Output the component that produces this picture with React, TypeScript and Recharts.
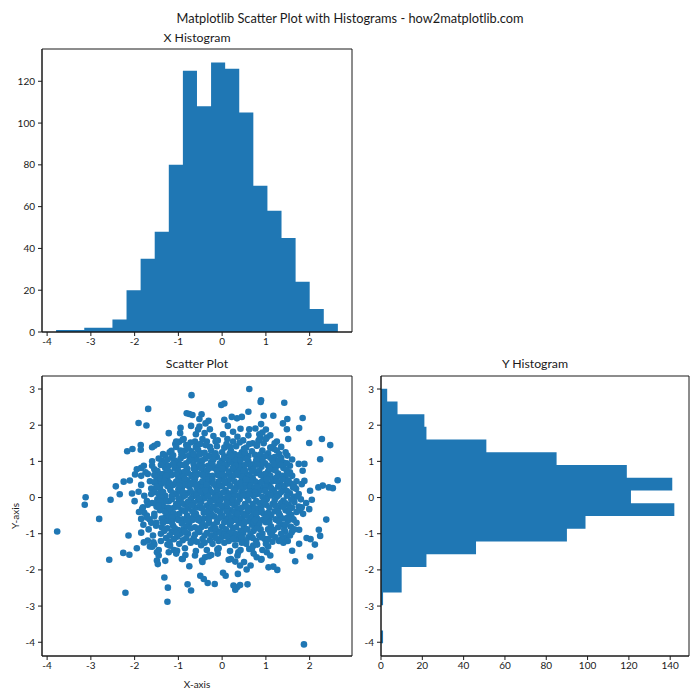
import React from 'react';
import { AreaChart, Area, XAxis, YAxis, ScatterChart, Scatter, ReferenceArea } from 'recharts';

const BLUE = '#1f77b4';
const INK = '#1a1a1a';
const FONT = 'Lato, "Noto Sans", sans-serif';

// X histogram: bin edges and counts
const xBinEdges = [-3.795, -3.473, -3.151, -2.829, -2.507, -2.185, -1.863, -1.541, -1.219, -0.897, -0.575, -0.253, 0.069, 0.391, 0.713, 1.035, 1.357, 1.679, 2.001, 2.323, 2.645];
const xBinCounts = [1, 1, 2, 2, 6, 20, 35, 48, 80, 125, 108, 129, 126, 105, 70, 58, 45, 24, 11, 4];

// Y histogram: bin edges (bottom to top) and counts
const yBinEdges = [-4.03, -3.678, -3.326, -2.974, -2.622, -2.27, -1.918, -1.566, -1.214, -0.862, -0.51, -0.158, 0.194, 0.546, 0.898, 1.25, 1.602, 1.954, 2.306, 2.658, 3.01];
const yBinCounts = [1, 0, 0, 1, 10, 10, 22, 46, 90, 99, 142, 121, 141, 119, 85, 51, 22, 21, 8, 3];

const xTicks = [-4, -3, -2, -1, 0, 1, 2];
const yTicks = [-4, -3, -2, -1, 0, 1, 2, 3];
const xCountTicks = [0, 20, 40, 60, 80, 100, 120];
const yCountTicks = [0, 20, 40, 60, 80, 100, 120, 140];

const xDomain: [number, number] = [-4.117, 2.968];
const yDomain: [number, number] = [-4.38, 3.36];
const xCountMax = 135.45;
const yCountMax = 149.1;

const outerPoints: [number, number][] = [
  [-3.77, -0.94], [-3.12, 0.01], [-3.14, -0.2], [-2.81, -0.59], [-2.55, -0.06], [-2.58, -1.72], [-2.21, -2.63], [-1.25, -2.88],
  [-1.24, -2.49], [-1.32, -2.21], [1.87, -4.06], [-0.7, 2.83], [0.62, 3.0], [0.89, 2.69], [0.88, 2.64], [1.42, 2.62],
  [-1.69, 2.45], [-1.91, 2.06], [-1.73, 1.99], [-2.17, 1.28], [-2.05, 1.34], [-1.86, 1.45], [-1.86, 1.32], [1.99, 1.51],
  [2.28, 1.62], [2.47, 1.45], [2.24, 1.06], [2.44, 0.28], [2.3, 0.33], [2.2, 0.28], [2.64, 0.48], [2.53, 0.26],
  [2.38, -0.61], [2.21, -0.89], [2.24, -1.06], [2.12, -1.3], [2.02, -1.15], [1.93, -1.12], [2.01, -1.63], [1.67, -1.76],
  [1.6, -1.47], [1.26, -2.0], [1.17, -1.91], [1.06, -1.93], [0.58, -2.4], [0.41, -2.42], [0.3, -2.55], [0.34, -2.48],
  [0.26, -2.43], [0.36, -2.11], [0.08, -2.16], [0.02, -2.08], [-0.17, -2.39], [-0.33, -2.36], [-0.42, -2.25], [-0.5, -2.16],
  [-0.71, -2.57], [-0.79, -2.4], [-0.75, -1.9], [0.56, -1.99], [0.65, -1.88], [-1.7, -1.19], [-1.95, -1.4], [-2.12, -1.58],
  [-2.26, -1.53], [-2.14, -1.05], [-1.85, -0.97], [-2.43, 0.31], [-2.34, 0.09], [-2.25, 0.44], [-2.11, 0.47], [-1.99, 0.64],
  [-2.06, 0.11], [-1.91, 0.16],
  [-0.81, 2.33], [-0.75, 2.31], [-0.68, 2.28], [-0.47, 2.3], [-0.52, 2.17], [-0.02, 2.56], [0.05, 2.6], [0.6, 2.37],
  [0.45, 2.23], [0.34, 2.19], [0.22, 2.23], [0.95, 2.26], [1.39, 2.05], [1.49, 2.17], [1.84, 2.2], [1.76, 1.92],
  [1.51, 1.62], [1.48, 1.89], [1.17, 2.26], [0.89, 2.03], [0.92, 1.8], [0.76, 1.91], [0.62, 1.89], [-0.96, 1.78],
  [-0.95, 1.93], [-1.22, 1.78], [-0.71, 1.98], [-0.38, 2.05], [-0.28, 1.89], [0.05, 2.15], [0.13, 1.98], [-1.55, 1.43],
  [-1.48, 1.48], [-1.6, 1.39], [-1.79, 0.88], [-1.85, 0.82], [-1.6, 0.88], [-1.7, 0.65], [1.88, 0.93], [1.75, 0.93],
  [1.84, 0.74], [1.82, 0.37], [1.88, 0.46], [1.69, 0.24], [2.01, 0.19], [2.05, -0.06], [1.99, -0.32], [1.92, -0.15],
  [1.82, -0.27], [1.63, -0.61], [1.57, -0.81], [1.59, -0.96], [1.46, -1.1], [1.36, -1.15], [1.44, -0.94], [1.76, -0.89],
  [1.76, -1.28], [1.32, 1.02], [1.4, 0.97], [1.49, 1.16], [1.25, 1.3], [1.13, 1.39],
  [-1.83, -0.32], [-1.78, -0.42], [-1.66, -0.6], [-1.55, -0.52], [-1.5, -0.25], [-1.62, -0.7],
  [-0.39, -1.65], [-0.46, -1.74], [-0.25, -1.59], [-0.11, -1.44], [0.2, -1.7], [0.3, -1.77], [0.41, -1.88], [0.37, -1.51],
  [0.71, -1.33], [0.79, -1.65], [0.89, -1.72], [1.02, -1.51], [0.62, -1.42], [-0.84, -1.59], [-0.92, -1.7], [-1.03, -1.47],
  [-1.19, -1.33], [-1.22, -1.51], [-1.49, -1.51], [-1.49, -1.74], [-1.47, -1.84], [-1.6, -1.36], [-1.57, -1.24], [-1.79, -1.24],
  [-1.51, -0.78], [-1.72, -0.5], [-1.81, -0.27], [-1.85, -0.59], [-1.72, -0.1], [-1.57, 0.19], [-1.45, 0.42], [-1.34, 0.65],
  [-1.49, 0.7], [-1.38, 1.02], [-1.3, 1.16], [-1.16, 1.29], [-1.07, 1.48], [-0.98, 1.54], [-0.88, 1.62],
  [0.79, 1.43], [0.83, 1.57], [0.87, 1.66], [1.02, 1.66], [-0.52, 1.96], [-0.31, 2.12], [-0.4, 1.78], [-0.62, 1.55],
  [-1.85, 0.35], [-1.78, 0.05], [-1.9, -0.4], [-1.72, -0.55], [-1.8, -0.75], [-1.68, -0.88], [-1.62, 0.25], [-1.7, -0.2],
  [-1.95, 0.78], [-1.85, 0.6], [-2.0, -0.1], [-1.58, -1.05], [-1.55, -1.3], [-1.45, -1.45], [-1.4, -1.2], [-1.65, -1.35],
  [1.6, 0.6], [1.7, 0.45], [1.65, 0.3], [1.75, 0.1], [1.8, -0.05], [1.85, -0.45], [1.7, -0.7], [1.65, -0.88],
  [1.55, -1.05], [1.5, -1.2], [1.4, -1.25], [1.3, -1.2], [1.55, 0.88], [1.6, 1.05], [1.45, 1.25], [1.35, 1.4],
  [1.25, 1.55], [1.1, 1.72], [1.0, 1.88], [0.85, 1.75], [1.2, 1.5],
];

const corePoints: [number, number][] = [
  [-1.05, 1.55], [-0.9, 1.6], [-0.72, 1.52], [-0.6, 1.75], [-0.45, 1.62], [-0.35, 1.55], [-0.2, 1.7], [-0.1, 1.58],
  [0.02, 1.75], [0.12, 1.62], [0.25, 1.55], [0.35, 1.68], [0.48, 1.58], [0.6, 1.72], [0.7, 1.5], [0.85, 1.6],
  [1.0, 1.62], [0.25, 1.82], [-0.55, 1.88], [0.42, 1.9],
  [-1.35, 1.2], [-1.2, 1.25], [-1.05, 1.4], [-0.95, 1.3], [-0.82, 1.45], [-0.7, 1.28], [-0.6, 1.4], [-0.48, 1.22],
  [-0.38, 1.45], [-0.25, 1.3], [-0.12, 1.42], [0.0, 1.25], [0.1, 1.48], [0.2, 1.3], [0.32, 1.42], [0.45, 1.25],
  [0.55, 1.38], [0.68, 1.28], [0.8, 1.45], [0.92, 1.3], [1.05, 1.22], [1.18, 1.35], [1.3, 1.2], [-0.3, 1.15], [0.6, 1.15],
  [-1.6, 1.0], [-1.45, 1.08], [-1.3, 0.95], [-1.15, 1.1], [-1.0, 0.98], [-0.88, 1.15], [-0.75, 1.02], [-0.62, 1.12],
  [-0.5, 0.95], [-0.38, 1.08], [-0.25, 0.98], [-0.12, 1.12], [0.0, 1.02], [0.12, 0.92], [0.22, 1.1], [0.35, 0.98],
  [0.48, 1.12], [0.6, 1.0], [0.72, 0.92], [0.85, 1.08], [0.98, 0.95], [1.1, 1.1], [1.22, 0.98], [1.35, 1.1], [1.48, 0.95],
  [-1.75, 0.7], [-1.55, 0.78], [-1.42, 0.65], [-1.3, 0.82], [-1.18, 0.7], [-1.05, 0.85], [-0.92, 0.68], [-0.8, 0.8],
  [-0.68, 0.62], [-0.55, 0.85], [-0.42, 0.72], [-0.3, 0.6], [-0.18, 0.82], [-0.05, 0.7], [0.08, 0.85], [0.18, 0.62],
  [0.3, 0.75], [0.42, 0.88], [0.55, 0.65], [0.66, 0.8], [0.78, 0.68], [0.9, 0.85], [1.02, 0.62], [1.15, 0.78],
  [1.28, 0.66], [1.4, 0.82], [1.55, 0.7], [-0.95, 0.9], [0.25, 0.95],
  [-1.65, 0.45], [-1.5, 0.55], [-1.38, 0.38], [-1.25, 0.5], [-1.12, 0.35], [-1.0, 0.55], [-0.88, 0.42], [-0.75, 0.3],
  [-0.62, 0.5], [-0.5, 0.38], [-0.4, 0.58], [-0.28, 0.42], [-0.15, 0.32], [-0.02, 0.52], [0.1, 0.4], [0.22, 0.55],
  [0.34, 0.35], [0.45, 0.48], [0.58, 0.32], [0.7, 0.55], [0.82, 0.4], [0.95, 0.5], [1.08, 0.35], [1.2, 0.52],
  [1.32, 0.4], [1.45, 0.55], [1.58, 0.38], [-0.7, 0.58], [0.05, 0.6],
  [-1.55, 0.15], [-1.42, 0.25], [-1.3, 0.05], [-1.18, 0.2], [-1.05, 0.1], [-0.92, 0.28], [-0.8, 0.12], [-0.68, 0.02],
  [-0.55, 0.22], [-0.42, 0.08], [-0.3, 0.25], [-0.18, 0.12], [-0.05, 0.02], [0.08, 0.2], [0.2, 0.08], [0.32, 0.28],
  [0.44, 0.15], [0.56, 0.02], [0.68, 0.22], [0.8, 0.1], [0.92, 0.27], [1.05, 0.05], [1.18, 0.2], [1.3, 0.08],
  [1.42, 0.25], [1.55, 0.12], [1.65, 0.02],
  [-1.6, -0.15], [-1.48, -0.05], [-1.35, -0.25], [-1.22, -0.1], [-1.1, -0.28], [-0.98, -0.08], [-0.85, -0.2], [-0.72, -0.05],
  [-0.6, -0.28], [-0.48, -0.12], [-0.35, -0.22], [-0.22, -0.05], [-0.1, -0.18], [0.02, -0.28], [0.15, -0.1], [0.28, -0.22],
  [0.4, -0.05], [0.52, -0.18], [0.65, -0.28], [0.78, -0.1], [0.9, -0.22], [1.02, -0.05], [1.15, -0.18], [1.28, -0.28],
  [1.4, -0.08], [1.52, -0.2], [1.65, -0.12], [1.75, -0.25],
  [-1.55, -0.45], [-1.42, -0.35], [-1.3, -0.55], [-1.18, -0.4], [-1.05, -0.58], [-0.92, -0.35], [-0.8, -0.5], [-0.68, -0.38],
  [-0.55, -0.55], [-0.42, -0.42], [-0.3, -0.32], [-0.18, -0.52], [-0.05, -0.4], [0.08, -0.58], [0.2, -0.35], [0.32, -0.48],
  [0.45, -0.58], [0.58, -0.4], [0.7, -0.52], [0.82, -0.32], [0.95, -0.45], [1.08, -0.58], [1.2, -0.38], [1.32, -0.5],
  [1.45, -0.35], [1.58, -0.48], [1.7, -0.4],
  [-1.5, -0.7], [-1.38, -0.82], [-1.25, -0.65], [-1.12, -0.78], [-1.0, -0.62], [-0.88, -0.88], [-0.75, -0.7], [-0.62, -0.82],
  [-0.5, -0.65], [-0.38, -0.78], [-0.25, -0.88], [-0.12, -0.68], [0.0, -0.8], [0.12, -0.62], [0.25, -0.85], [0.38, -0.7],
  [0.5, -0.82], [0.62, -0.65], [0.75, -0.78], [0.88, -0.88], [1.0, -0.68], [1.12, -0.8], [1.25, -0.62], [1.38, -0.75], [1.5, -0.65],
  [-1.4, -1.0], [-1.28, -1.12], [-1.15, -0.95], [-1.02, -1.08], [-0.9, -1.18], [-0.78, -1.0], [-0.65, -1.12], [-0.52, -0.95],
  [-0.4, -1.05], [-0.28, -1.18], [-0.15, -0.98], [-0.02, -1.1], [0.1, -0.92], [0.22, -1.05], [0.35, -1.15], [0.48, -0.98],
  [0.6, -1.1], [0.72, -0.92], [0.85, -1.05], [0.98, -1.15], [1.1, -0.98], [1.22, -1.1], [-0.7, -1.2], [0.15, -1.2],
  [-1.25, -1.3], [-1.1, -1.45], [-0.98, -1.28], [-0.85, -1.4], [-0.72, -1.25], [-0.6, -1.48], [-0.48, -1.32], [-0.35, -1.45],
  [-0.22, -1.28], [-0.08, -1.4], [0.05, -1.25], [0.18, -1.48], [0.3, -1.32], [0.42, -1.45], [0.55, -1.28], [0.68, -1.42],
  [0.8, -1.3], [0.92, -1.45], [1.05, -1.35],
  [-1.45, -1.6], [-1.3, -1.75], [-1.05, -1.55], [-0.9, -1.7], [-0.62, -1.6], [-0.45, -1.78], [-0.3, -1.62], [-0.1, -1.55],
  [0.15, -1.72], [0.35, -1.6], [0.5, -1.78], [0.72, -1.55], [0.9, -1.7], [1.1, -1.6],
  [-0.85, 1.3], [-0.55, 1.32], [-0.15, 1.22], [0.28, 1.2], [0.75, 1.18], [1.1, 1.38],
  [-1.08, 0.82], [-0.82, 0.95], [-0.58, 1.05], [-0.32, 0.88], [-0.05, 0.95], [0.15, 1.05], [0.4, 0.82], [0.62, 0.92],
  [0.88, 0.98], [1.05, 0.72], [1.25, 0.88],
  [-1.4, 0.52], [-1.15, 0.62], [-0.95, 0.45], [-0.78, 0.68], [-0.55, 0.65], [-0.35, 0.5], [-0.1, 0.62], [0.15, 0.72],
  [0.38, 0.62], [0.52, 0.75], [0.75, 0.45], [0.98, 0.65], [1.15, 0.45], [1.38, 0.6],
  [-1.45, 0.1], [-1.25, 0.32], [-1.0, 0.22], [-0.85, 0.35], [-0.62, 0.12], [-0.45, 0.3], [-0.25, 0.15], [0.0, 0.32],
  [0.14, 0.12], [0.38, 0.05], [0.5, 0.28], [0.62, 0.42], [0.85, 0.18], [1.0, 0.42], [1.22, 0.12], [1.48, 0.38],
  [-1.3, -0.1], [-1.05, -0.18], [-0.9, 0.02], [-0.65, -0.15], [-0.4, -0.02], [-0.15, -0.08], [0.08, -0.02], [0.22, -0.15],
  [0.45, -0.28], [0.6, -0.08], [0.85, -0.15], [1.08, -0.28], [1.35, -0.15], [1.58, -0.05],
  [-1.22, -0.5], [-0.98, -0.45], [-0.75, -0.58], [-0.5, -0.28], [-0.25, -0.45], [0.0, -0.5], [0.15, -0.45], [0.4, -0.38],
  [0.65, -0.55], [0.88, -0.4], [1.12, -0.48], [1.4, -0.58], [1.62, -0.6],
  [-1.32, -0.92], [-1.08, -0.85], [-0.8, -0.8], [-0.55, -0.9], [-0.3, -0.7], [-0.05, -0.95], [0.18, -0.75], [0.42, -0.92],
  [0.68, -0.75], [0.92, -0.62], [1.18, -0.9], [1.42, -0.88],
  [-1.2, -1.22], [-0.95, -1.0], [-0.58, -1.22], [-0.35, -0.98], [-0.08, -1.2], [0.3, -1.0], [0.55, -1.2], [0.78, -1.2],
  [1.0, -1.28], [1.15, -1.22],
];

const denseCorePoints: [number, number][] = [
  [-1.12, 1.17], [-0.93, 1.2], [-0.76, 1.16], [-0.52, 1.19], [-0.4, 1.24], [-0.18, 1.18], [0.05, 1.14], [0.17, 1.21],
  [0.38, 1.17], [0.52, 1.23], [0.87, 1.19], [0.98, 1.14], [1.2, 1.12],
  [-1.25, 1.05], [-1.08, 1.02], [-0.95, 1.08], [-0.7, 1.07], [-0.45, 1.03], [-0.2, 1.05], [0.06, 1.08], [0.3, 1.06],
  [0.42, 1.03], [0.55, 1.07], [0.78, 1.04], [0.92, 1.06], [1.15, 1.02], [1.3, 1.03],
  [-1.4, 0.9], [-1.22, 0.88], [-1.12, 0.93], [-0.88, 0.9], [-0.65, 0.92], [-0.45, 0.87], [-0.22, 0.92], [-0.08, 0.86],
  [0.05, 0.9], [0.3, 0.88], [0.52, 0.9], [0.8, 0.91], [1.05, 0.88], [1.18, 0.93], [1.33, 0.9],
  [-1.48, 0.73], [-1.25, 0.76], [-1.0, 0.74], [-0.85, 0.72], [-0.62, 0.76], [-0.48, 0.8], [-0.35, 0.74], [-0.12, 0.75],
  [0.02, 0.78], [0.24, 0.8], [0.48, 0.73], [0.72, 0.78], [0.85, 0.74], [1.08, 0.8], [1.22, 0.75], [1.47, 0.77],
  [-1.55, 0.62], [-1.28, 0.6], [-1.05, 0.65], [-0.88, 0.58], [-0.6, 0.6], [-0.45, 0.62], [-0.22, 0.6], [0.0, 0.65],
  [0.28, 0.62], [0.45, 0.58], [0.62, 0.6], [0.88, 0.62], [1.1, 0.6], [1.25, 0.56], [1.48, 0.65],
  [-1.55, 0.42], [-1.32, 0.46], [-1.05, 0.44], [-0.8, 0.48], [-0.68, 0.42], [-0.45, 0.45], [-0.22, 0.5], [-0.08, 0.44],
  [0.15, 0.48], [0.28, 0.45], [0.52, 0.42], [0.65, 0.48], [0.9, 0.43], [1.02, 0.5], [1.25, 0.45], [1.38, 0.5], [1.52, 0.46],
  [-1.5, 0.3], [-1.2, 0.28], [-0.98, 0.33], [-0.72, 0.36], [-0.58, 0.28], [-0.35, 0.35], [-0.08, 0.3], [0.18, 0.32],
  [0.42, 0.3], [0.65, 0.33], [0.75, 0.28], [1.0, 0.3], [1.12, 0.26], [1.38, 0.32], [1.62, 0.28],
  [-1.62, 0.1], [-1.35, 0.15], [-1.12, 0.12], [-0.95, 0.16], [-0.72, 0.18], [-0.5, 0.15], [-0.35, 0.12], [-0.12, 0.18],
  [0.02, 0.14], [0.26, 0.18], [0.5, 0.12], [0.62, 0.16], [0.75, 0.15], [0.98, 0.18], [1.1, 0.12], [1.35, 0.15], [1.48, 0.18],
  [-1.4, 0.0], [-1.15, 0.04], [-1.0, -0.02], [-0.85, 0.06], [-0.58, 0.05], [-0.32, 0.04], [-0.1, 0.06], [0.14, 0.03],
  [0.28, 0.05], [0.48, 0.06], [0.72, 0.04], [0.92, 0.02], [1.12, 0.06], [1.25, 0.02], [1.48, 0.05], [1.72, 0.03],
  [-1.5, -0.15], [-1.42, -0.12], [-1.15, -0.05], [-0.92, -0.15], [-0.78, -0.12], [-0.55, -0.08], [-0.28, -0.12], [-0.05, -0.08],
  [0.25, -0.06], [0.35, -0.14], [0.7, -0.18], [0.95, -0.1], [1.2, -0.08], [1.45, -0.16], [1.6, -0.28],
  [-1.45, -0.22], [-1.25, -0.28], [-1.0, -0.25], [-0.78, -0.3], [-0.5, -0.2], [-0.25, -0.3], [-0.02, -0.22], [0.12, -0.28],
  [0.35, -0.3], [0.55, -0.25], [0.75, -0.3], [1.0, -0.2], [1.22, -0.22], [1.4, -0.26], [1.55, -0.3],
  [-1.3, -0.4], [-1.1, -0.45], [-0.85, -0.38], [-0.6, -0.45], [-0.35, -0.4], [-0.12, -0.35], [0.1, -0.38], [0.28, -0.4],
  [0.48, -0.45], [0.7, -0.38], [0.9, -0.35], [1.05, -0.42], [1.28, -0.38], [1.52, -0.4], [1.78, -0.35],
  [-1.38, -0.58], [-1.15, -0.55], [-0.9, -0.6], [-0.65, -0.52], [-0.42, -0.58], [-0.3, -0.52], [-0.1, -0.6], [0.22, -0.55],
  [0.38, -0.58], [0.55, -0.5], [0.8, -0.58], [1.0, -0.55], [1.22, -0.6], [1.5, -0.55],
  [-1.35, -0.7], [-1.15, -0.68], [-0.92, -0.72], [-0.68, -0.62], [-0.45, -0.72], [-0.2, -0.75], [0.05, -0.68], [0.3, -0.62],
  [0.45, -0.72], [0.72, -0.68], [0.85, -0.72], [1.08, -0.7], [1.3, -0.66], [1.45, -0.75],
  [-1.25, -0.85], [-1.0, -0.9], [-0.72, -0.85], [-0.48, -0.82], [-0.15, -0.85], [0.08, -0.88], [0.32, -0.82], [0.58, -0.88],
  [0.8, -0.85], [1.05, -0.88], [1.28, -0.82],
  [-1.2, -1.05], [-1.05, -0.98], [-0.85, -0.95], [-0.62, -1.02], [-0.25, -1.05], [0.05, -1.02], [0.18, -0.98], [0.42, -1.05],
  [0.65, -1.0], [0.92, -1.0], [1.15, -1.05], [1.35, -1.0],
  [-1.1, -1.15], [-0.82, -1.12], [-0.45, -1.15], [-0.15, -1.12], [0.1, -1.08], [0.25, -1.15], [0.45, -1.1], [0.7, -1.12],
  [0.9, -1.1], [1.05, -1.15],
  [-0.78, 1.38], [-0.5, 1.48], [-0.15, 1.55], [0.18, 1.4], [0.4, 1.52], [0.62, 1.48], [0.95, 1.5], [-0.28, 1.4],
  [0.05, 1.38], [0.5, 1.35],
  [-0.85, 0.52], [-0.6, 0.35], [-0.38, 0.2], [-0.2, 0.38], [0.05, 0.45], [0.3, 0.2], [0.55, 0.5], [0.8, 0.3],
  [-0.7, -0.22], [-0.45, -0.3], [-0.2, -0.25], [0.1, -0.15], [0.35, -0.45], [0.6, -0.35], [0.78, -0.45], [-0.8, -0.65],
  [-0.55, -0.62], [-0.3, -0.6], [-0.05, -0.55], [0.2, -0.68], [0.52, -0.68], [0.75, -0.62], [-0.65, 0.8], [-0.3, 0.8],
  [0.0, 0.8], [0.35, 0.68], [0.68, 0.72], [-0.9, 0.15], [0.4, 0.4], [-0.15, 0.0], [0.62, 0.08], [-0.52, -0.02],
  [1.28, 0.3], [1.3, -0.45], [-1.2, 0.4], [-1.2, -0.3], [0.2, 1.15], [-0.65, 1.2], [0.45, -1.25], [-0.4, -1.25],
];

const xHistData = xBinEdges.map((edge, i) => ({ edge, count: xBinCounts[Math.min(i, xBinCounts.length - 1)] }));
const yHistData = yBinEdges.map((edge, i) => ({ edge, count: yBinCounts[Math.min(i, yBinCounts.length - 1)] }));
const scatterData = [...outerPoints, ...corePoints, ...denseCorePoints].map(([x, y]) => ({ x, y }));

const tickStyle = { fontSize: 10, fill: INK, fontFamily: FONT };
const lineStyle = { stroke: INK, strokeWidth: 1 };

function Text({ cx, cy, size, children, rotate }: { cx: number; cy: number; size: number; children: React.ReactNode; rotate?: boolean }) {
  return (
    <div
      style={{
        position: 'absolute',
        left: cx - 300,
        top: cy - size * 0.6,
        width: 600,
        height: size * 1.2,
        lineHeight: `${size * 1.2}px`,
        fontSize: size,
        textAlign: 'center',
        color: INK,
        fontFamily: FONT,
        whiteSpace: 'nowrap',
        transform: rotate ? 'rotate(-90deg)' : undefined,
      }}
    >
      {children}
    </div>
  );
}

const Dot = (props: any) => <circle cx={props.cx} cy={props.cy} r={3.3} fill={BLUE} />;

export default function App() {
  return (
    <div style={{ position: 'absolute', left: 0, top: 0, width: 700, height: 700, background: '#fff', fontFamily: FONT }}>
      <Text cx={350} cy={19} size={12.8}>Matplotlib Scatter Plot with Histograms - how2matplotlib.com</Text>
      <Text cx={197} cy={38} size={12.3}>X Histogram</Text>
      <Text cx={197} cy={364} size={12.3}>Scatter Plot</Text>
      <Text cx={535} cy={364} size={12.3}>Y Histogram</Text>
      <Text cx={197} cy={684} size={10}>X-axis</Text>
      <Text cx={15} cy={516} size={10} rotate>Y-axis</Text>

      <div style={{ position: 'absolute', left: 0, top: 30 }}>
        <AreaChart width={360} height={330} data={xHistData} margin={{ top: 19, right: 8, bottom: 8, left: 0 }}>
          <XAxis type="number" dataKey="edge" domain={xDomain} ticks={xTicks} allowDataOverflow height={20}
            tick={tickStyle} tickSize={4} tickMargin={2} axisLine={lineStyle} tickLine={lineStyle} interval={0} />
          <YAxis type="number" domain={[0, xCountMax]} ticks={xCountTicks} allowDataOverflow width={42}
            tick={tickStyle} tickSize={4} tickMargin={3} axisLine={lineStyle} tickLine={lineStyle} interval={0} />
          <Area dataKey="count" type="stepAfter" fill={BLUE} fillOpacity={1} stroke="none" isAnimationActive={false} dot={false} activeDot={false} />
          <ReferenceArea x1={xDomain[0]} x2={xDomain[1]} y1={0} y2={xCountMax} fill="none" stroke={INK} strokeWidth={1} ifOverflow="visible" />
        </AreaChart>
      </div>

      <div style={{ position: 'absolute', left: 0, top: 350 }}>
        <ScatterChart width={360} height={330} margin={{ top: 26, right: 8, bottom: 4, left: 0 }}>
          <XAxis type="number" dataKey="x" domain={xDomain} ticks={xTicks} allowDataOverflow height={20}
            tick={tickStyle} tickSize={4} tickMargin={2} axisLine={lineStyle} tickLine={lineStyle} interval={0} />
          <YAxis type="number" dataKey="y" domain={yDomain} ticks={yTicks} allowDataOverflow width={42}
            tick={tickStyle} tickSize={4} tickMargin={3} axisLine={lineStyle} tickLine={lineStyle} interval={0} />
          <Scatter data={scatterData} fill={BLUE} shape={Dot} isAnimationActive={false} />
          <ReferenceArea x1={xDomain[0]} x2={xDomain[1]} y1={yDomain[0]} y2={yDomain[1]} fill="none" stroke={INK} strokeWidth={1} ifOverflow="visible" />
        </ScatterChart>
      </div>

      <div style={{ position: 'absolute', left: 360, top: 350 }}>
        <AreaChart width={340} height={330} data={yHistData} layout="vertical" margin={{ top: 26, right: 11, bottom: 4, left: 0 }}>
          <XAxis type="number" domain={[0, yCountMax]} ticks={yCountTicks} allowDataOverflow height={20}
            tick={tickStyle} tickSize={4} tickMargin={2} axisLine={lineStyle} tickLine={lineStyle} interval={0} />
          <YAxis type="number" dataKey="edge" domain={yDomain} ticks={yTicks} allowDataOverflow width={21} reversed
            tick={tickStyle} tickSize={4} tickMargin={3} axisLine={lineStyle} tickLine={lineStyle} interval={0} />
          <Area dataKey="count" type="stepBefore" fill={BLUE} fillOpacity={1} stroke="none" isAnimationActive={false} dot={false} activeDot={false} />
          <ReferenceArea x1={0} x2={yCountMax} y1={yDomain[0]} y2={yDomain[1]} fill="none" stroke={INK} strokeWidth={1} ifOverflow="visible" />
        </AreaChart>
      </div>
    </div>
  );
}
